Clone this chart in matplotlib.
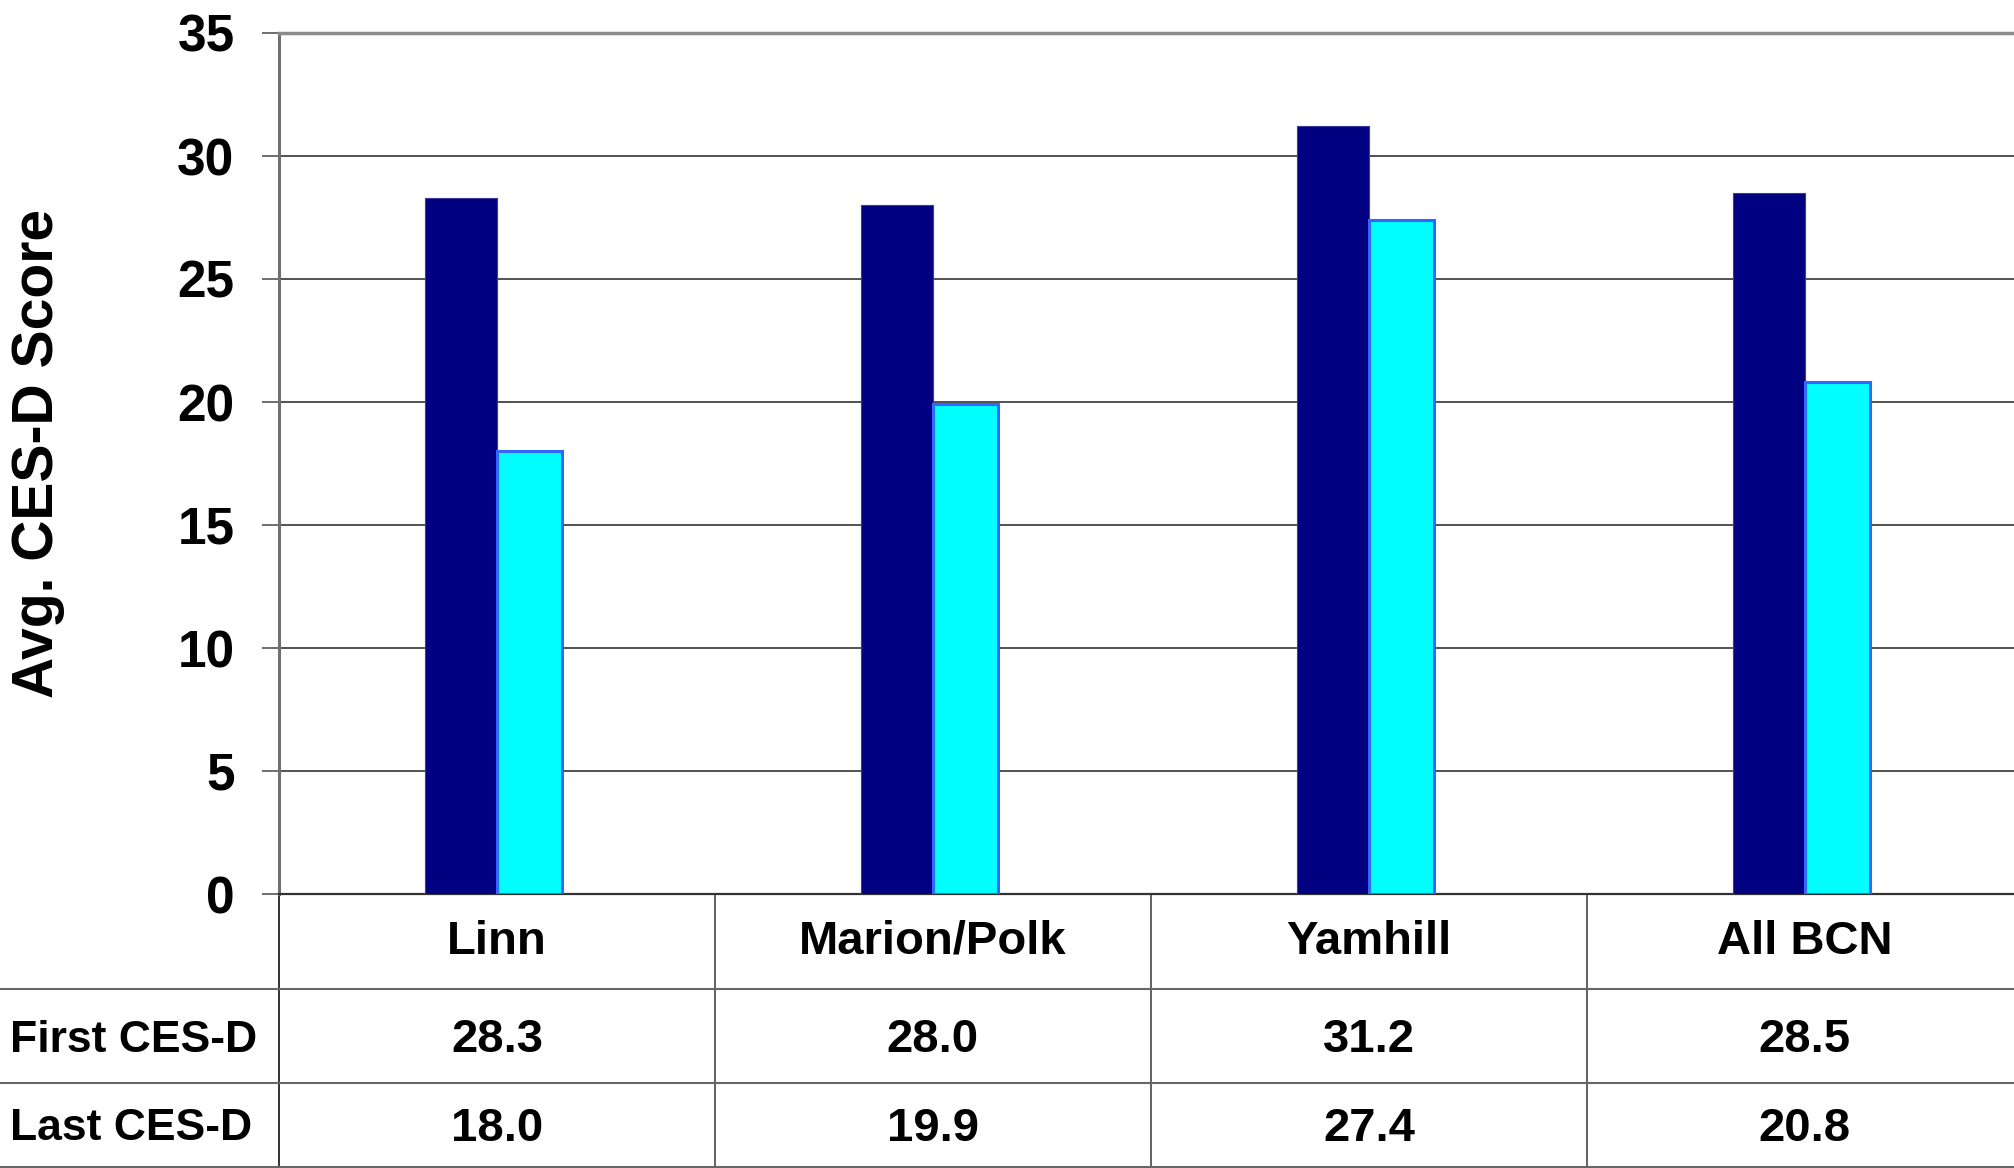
import matplotlib.pyplot as plt
import matplotlib.transforms as mtransforms

# Data
categories = ["Linn", "Marion/Polk", "Yamhill", "All BCN"]
first_cesd = [28.3, 28.0, 31.2, 28.5]
last_cesd = [18.0, 19.9, 27.4, 20.8]
row_labels = ["First CES-D", "Last CES-D"]
yticks = [0, 5, 10, 15, 20, 25, 30, 35]

plt.rcParams['font.family'] = ['Liberation Sans', 'DejaVu Sans']
plt.rcParams['font.weight'] = 'bold'
fs = 34

W, H = 2014, 1168
fig = plt.figure(figsize=(W / 100, H / 100), dpi=100)
ax = fig.add_axes([279 / W, (H - 894) / H, (W - 279) / W, (894 - 33) / H])

x = list(range(len(categories)))
ax.bar(x, first_cesd, width=-0.165, align='edge', color='#000080',
       edgecolor='#3a3aa0', linewidth=0.8, zorder=3)
ax.bar(x, last_cesd, width=0.15, align='edge', color='#00FFFF',
       edgecolor='#3366FF', linewidth=2.2, zorder=3)

ax.set_xlim(-0.5, 3.48)
ax.set_ylim(0, 35)
ax.set_yticks(yticks)
ax.set_yticklabels([str(t) for t in yticks], fontsize=37, fontweight='bold')
ax.tick_params(axis='y', length=12, width=1.2, color='#555555', pad=20)
ax.set_xticks([])
ax.yaxis.grid(True, color='#222222', linewidth=1.1, zorder=0)
ax.set_axisbelow(True)

ax.spines['right'].set_visible(False)
ax.spines['top'].set_color('#8c8c8c')
ax.spines['top'].set_linewidth(2.5)
ax.spines['left'].set_color('#707070')
ax.spines['left'].set_linewidth(2.2)
ax.spines['bottom'].set_color('#333333')
ax.spines['bottom'].set_linewidth(1.6)

# y label placed in figure coordinates so it stays inside the canvas
fig.text(38 / W, (H - 453) / H, "Avg. CES-D Score", rotation=90,
         ha='center', va='center', fontsize=41, fontweight='bold')

# Data table below the plot
ax_h = 894 - 33
r1 = -(989 - 894) / ax_h
r2 = -(1083 - 894) / ax_h
r3 = -(1167 - 894) / ax_h
off = -4 / ax_h

tx = mtransforms.blended_transform_factory(ax.transData, ax.transAxes)
fx = mtransforms.blended_transform_factory(fig.transFigure, ax.transAxes)

for b in [-0.5] + [i + 0.5 for i in x]:
    ax.plot([b, b], [0, r3], transform=tx, color='#222222' if b == -0.5 else '#555555',
            linewidth=1.3, clip_on=False)
for ry in (r1, r2, r3):
    ax.plot([0, 1], [ry, ry], transform=fx, color='#666666', linewidth=1.5,
            clip_on=False)

for i, cat in enumerate(categories):
    ax.text(i, (0 + r1) / 2, cat, transform=tx, ha='center', va='center',
            fontsize=fs, fontweight='bold')
    ax.text(i, (r1 + r2) / 2 + off, f"{first_cesd[i]:.1f}", transform=tx,
            ha='center', va='center', fontsize=fs, fontweight='bold')
    ax.text(i, (r2 + r3) / 2 + off, f"{last_cesd[i]:.1f}", transform=tx,
            ha='center', va='center', fontsize=fs, fontweight='bold')

ax.text(10 / W, (r1 + r2) / 2 + off, row_labels[0], transform=fx, ha='left',
        va='center', fontsize=32, fontweight='bold')
ax.text(10 / W, (r2 + r3) / 2 + off, row_labels[1], transform=fx, ha='left',
        va='center', fontsize=32, fontweight='bold')

fig.savefig("out.png", dpi=100)
